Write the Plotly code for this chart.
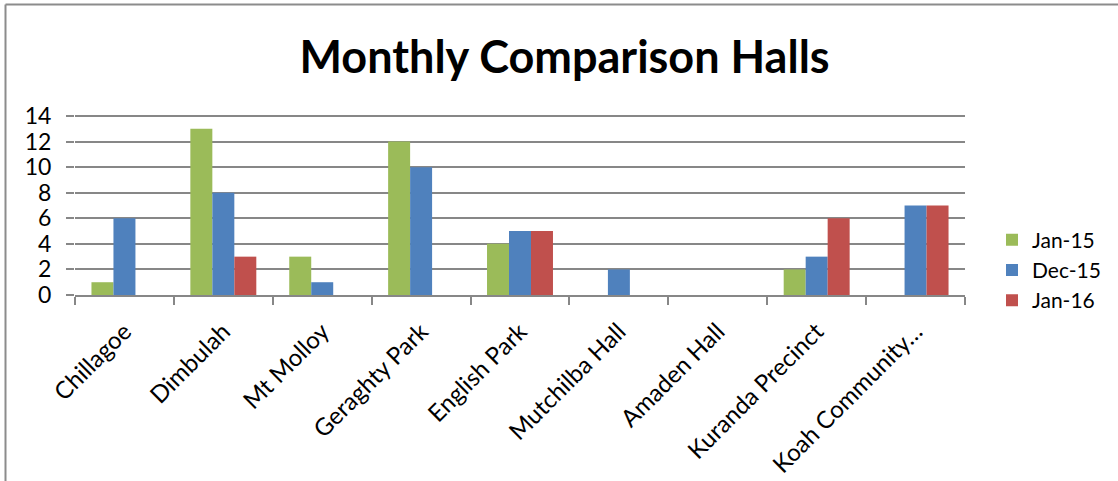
import plotly.graph_objects as go

categories = ["Chillagoe", "Dimbulah", "Mt Molloy", "Geraghty Park", "English Park",
              "Mutchilba Hall", "Amaden Hall", "Kuranda Precinct", "Koah Community…"]
jan15 = [1, 13, 3, 12, 4, 0, 0, 2, 0]
dec15 = [6, 8, 1, 10, 5, 2, 0, 3, 7]
jan16 = [0, 3, 0, 0, 5, 0, 0, 6, 7]
series_names = ["Jan-15", "Dec-15", "Jan-16"]
series_colors = ["#9BBB59", "#4F81BD", "#C0504D"]
y_ticks = [0, 2, 4, 6, 8, 10, 12, 14]

FONT = "Lato"
GRID = "#878787"

fig = go.Figure()
for name, vals, col in zip(series_names, [jan15, dec15, jan16], series_colors):
    fig.add_trace(go.Bar(name=name, x=categories, y=vals, marker=dict(color=col, line=dict(width=0))))

L, R, T, B = 75, 153, 115, 186
W, H = 1118, 481
pw, ph = W - L - R, H - T - B

def px_x(p):
    return (p - L) / pw

def px_y(p):
    return (H - B - p) / ph

fig.update_layout(
    width=W, height=H,
    margin=dict(l=L, r=R, t=T, b=B, autoexpand=False),
    paper_bgcolor="white", plot_bgcolor="white",
    barmode="group", bargap=0.333, bargroupgap=0,
    font=dict(family=FONT, color="black"),
    title=dict(text="<b>Monthly Comparison Halls</b>", x=0.505, xanchor="center",
               y=1 - 57 / H, yanchor="middle", font=dict(size=45, family=FONT, color="black")),
    legend=dict(x=px_x(992), xanchor="left", y=px_y(270), yanchor="middle",
                font=dict(size=21, family=FONT), itemwidth=30, tracegroupgap=0,
                bgcolor="rgba(0,0,0,0)"),
    showlegend=True,
    xaxis=dict(showline=True, linecolor=GRID, linewidth=2, ticks="outside", tickson="boundaries",
               ticklen=8, tickcolor=GRID, tickwidth=2, tickangle=-45, ticklabelstandoff=11,
               tickfont=dict(size=24, family=FONT, color="black"), showgrid=False),
    yaxis=dict(range=[0, 14.08], tickvals=y_ticks, showgrid=True, gridcolor=GRID, gridwidth=1.8,
               ticks="outside", ticklen=8, tickcolor=GRID, tickwidth=1.8, showline=False,
               zeroline=False, ticklabelstandoff=10,
               tickfont=dict(size=23, family=FONT, color="black")),
    shapes=[
        dict(type="line", xref="paper", yref="paper", x0=px_x(5.5), x1=px_x(1118), y0=px_y(4.5), y1=px_y(4.5),
             line=dict(color="#8c8c8c", width=2)),
        dict(type="line", xref="paper", yref="paper", x0=px_x(5.5), x1=px_x(5.5), y0=px_y(4.5), y1=px_y(481),
             line=dict(color="#8c8c8c", width=2)),
    ],
)

fig.write_html("out.html", config={"displayModeBar": False},
               post_script="document.body.style.margin='0';")
